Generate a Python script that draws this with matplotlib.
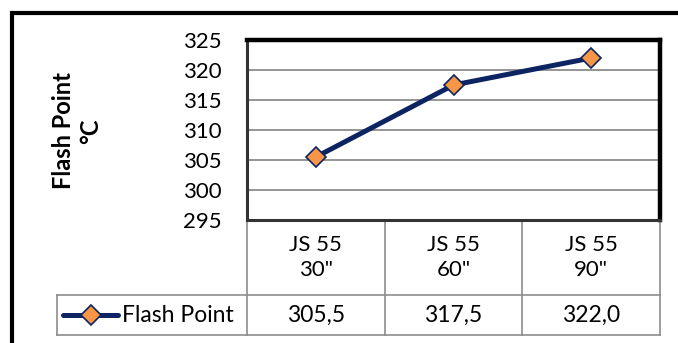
import matplotlib.pyplot as plt
from matplotlib.lines import Line2D
from matplotlib.patches import Rectangle

# data
categories = ['JS 55\n30"', 'JS 55\n60"', 'JS 55\n90"']
flash_point = [305.5, 317.5, 322.0]
series_name = 'Flash Point'
y_ticks = [295, 300, 305, 310, 315, 320, 325]

navy = '#0c2461'
orange = '#f79646'
grid_grey = '#8c8c8c'

plt.rcParams['font.family'] = ['Lato', 'DejaVu Sans']

W, H = 678, 343
fig = plt.figure(figsize=(W / 100, H / 100), dpi=100)

# plot area in pixel terms
left, top, right, bottom = 247, 40, 660, 220
ax = fig.add_axes([left / W, 1 - bottom / H, (right - left) / W, (bottom - top) / H])

x = list(range(len(categories)))
ax.plot(x, flash_point, color=navy, lw=3.6, marker='D', ms=10,
        markerfacecolor=orange, markeredgecolor=navy, markeredgewidth=1.2,
        solid_capstyle='round', zorder=5)

ax.set_xlim(-0.5, len(categories) - 0.5)
ax.set_ylim(295, 325)
ax.set_yticks(y_ticks)
ax.set_yticklabels([str(t) for t in y_ticks], fontsize=16)
ax.tick_params(axis='y', length=0, pad=18)
ax.set_xticks([])
ax.yaxis.grid(True, color=grid_grey, lw=1.3)
ax.set_axisbelow(True)

for side in ('top', 'right'):
    ax.spines[side].set_color('black')
    ax.spines[side].set_linewidth(3.2)
for side in ('left', 'bottom'):
    ax.spines[side].set_color('#333333')
    ax.spines[side].set_linewidth(2.2)

pw = right - left
ph = bottom - top
tr = ax.transAxes

# axis title
ax.text((77 - left) / pw, (bottom - 131) / ph, 'Flash Point\n°C', transform=tr,
        rotation=90, ha='center', va='center', multialignment='center',
        fontsize=17, fontweight='bold', linespacing=1.2)

# data table below the plot, in axes units
row1 = -(295 - bottom) / ph
row2 = -(335 - bottom) / ph
leg_left = (57 - left) / pw

def tline(xs, ys):
    ax.add_line(Line2D(xs, ys, transform=tr, color=grid_grey, lw=1.2, clip_on=False))

n = len(categories)
for i in range(n + 1):
    tline([i / n, i / n], [0, row2])
tline([leg_left, leg_left], [row1, row2])
tline([leg_left, 1], [row1, row1])
tline([leg_left, 1], [row2, row2])

for i, (cat, val) in enumerate(zip(categories, flash_point)):
    cx = (i + 0.5) / n
    ax.text(cx, row1 / 2, cat, transform=tr, ha='center', va='center',
            fontsize=16, linespacing=1.3)
    ax.text(cx, (row1 + row2) / 2, f'{val:.1f}'.replace('.', ','), transform=tr,
            ha='center', va='center', fontsize=16.5)

# legend key inside the table
ym = (row1 + row2) / 2
kx0, kx1 = (63 - left) / pw, (118 - left) / pw
ax.add_line(Line2D([kx0, kx1], [ym, ym], transform=tr, color=navy, lw=3.6,
                   solid_capstyle='round', clip_on=False))
ax.add_line(Line2D([(kx0 + kx1) / 2], [ym], transform=tr, marker='D', ms=10,
                   markerfacecolor=orange, markeredgecolor=navy,
                   markeredgewidth=1.2, clip_on=False))
ax.text((122 - left) / pw, ym, series_name, transform=tr, ha='left', va='center',
        fontsize=16.5)

# chart frame
fig.patches.append(Rectangle((12 / W, -0.2), 1.2, 1.2 - 13 / H,
                             transform=fig.transFigure, fill=False,
                             edgecolor='black', lw=3))

fig.savefig('out.png', dpi=100)
